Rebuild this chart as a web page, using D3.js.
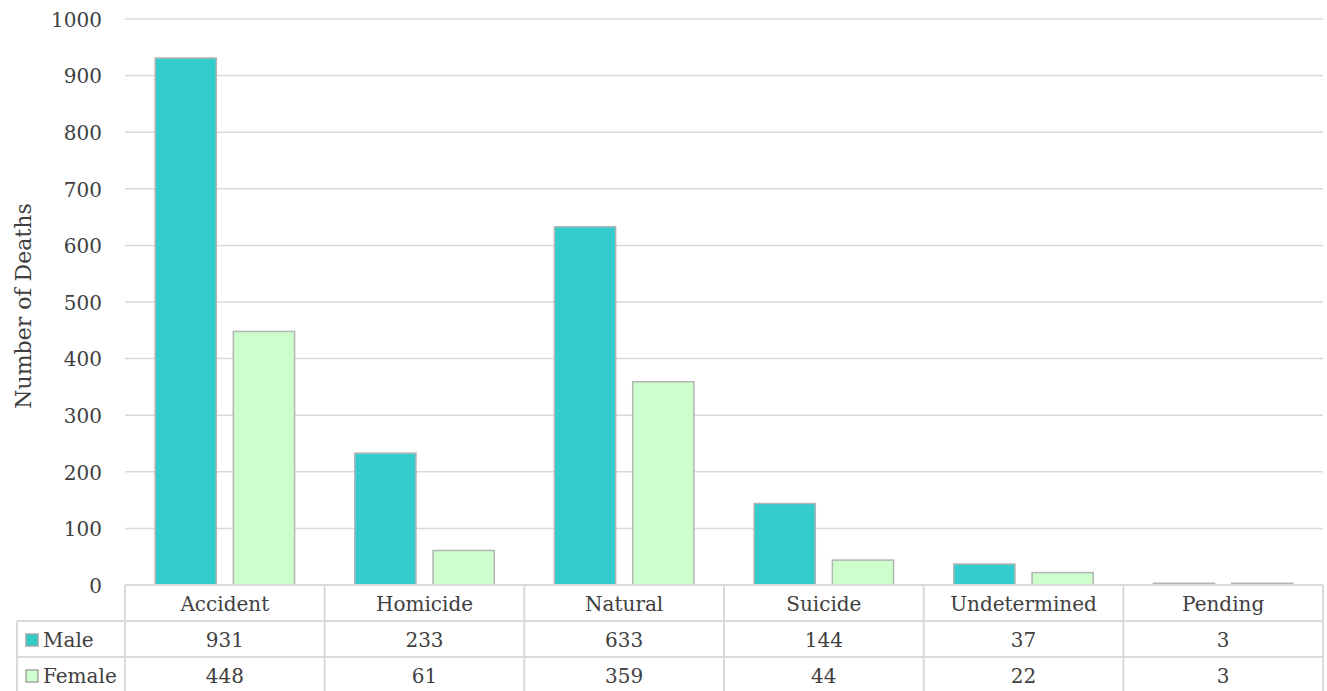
<!DOCTYPE html>
<html><head><meta charset="utf-8">
<script src="https://cdn.jsdelivr.net/npm/d3@7"></script>
<style>body{margin:0;background:#fff}svg{display:block}</style>
</head><body>
<script>
const categories = ["Accident","Homicide","Natural","Suicide","Undetermined","Pending"];
const seriesNames = ["Male","Female"];
const maleValues = [931,233,633,144,37,3];
const femaleValues = [448,61,359,44,22,3];
const yTicks = [0,100,200,300,400,500,600,700,800,900,1000];
const colors = ["#33CCCC","#CCFFCC"];

(function(){
const W=1327,H=691;
const pLeft=125,pRight=1323,pTop=19,pBottom=585;
const rowH=36;
const font="'DejaVu Serif', serif";
const fs=20;
const txt="#404040";
const svg=d3.select("body").append("svg").attr("width",W).attr("height",H);

const x=d3.scaleBand().domain(categories).range([pLeft,pRight]).padding(0);
const x1=d3.scaleBand().domain(seriesNames).range([0,x.bandwidth()]).paddingInner(0.218).paddingOuter(0.385);
const y=d3.scaleLinear().domain([0,1000]).range([pBottom,pTop]);

svg.append("g").selectAll("line").data(yTicks).join("line")
 .attr("x1",pLeft).attr("x2",pRight).attr("y1",d=>y(d)).attr("y2",d=>y(d))
 .attr("stroke","#d9d9d9").attr("stroke-width",1.5);

const ya=svg.append("g").attr("transform",`translate(${pLeft},0)`)
 .call(d3.axisLeft(y).tickValues(yTicks).tickFormat(d3.format("d")).tickSize(0).tickPadding(23));
ya.select(".domain").remove();
ya.selectAll("text").attr("font-family",font).attr("font-size",fs).attr("fill",txt).attr("dy","0.36em");

svg.append("text").attr("transform",`translate(23,306) rotate(-90)`)
 .attr("text-anchor","middle").attr("dominant-baseline","central").attr("font-family",font).attr("font-size",22).attr("fill",txt)
 .text("Number of Deaths");

const data=categories.map((c,i)=>({c,vals:[maleValues[i],femaleValues[i]]}));
const g=svg.append("g");
data.forEach(d=>{
  d.vals.forEach((v,j)=>{
    g.append("rect").attr("x",x(d.c)+x1(seriesNames[j])).attr("width",x1.bandwidth())
     .attr("y",y(v)).attr("height",y(0)-y(v))
     .attr("fill",colors[j]).attr("stroke","#b4b4b4").attr("stroke-width",1.5);
  });
});

const tc="#d9d9d9";
const t=svg.append("g");
const labLeft=17;
t.append("line").attr("x1",pLeft).attr("x2",pRight).attr("y1",pBottom).attr("y2",pBottom).attr("stroke",tc).attr("stroke-width",2);
[1,2,3].forEach(r=>{
  t.append("line").attr("x1",labLeft).attr("x2",pRight).attr("y1",pBottom+r*rowH).attr("y2",pBottom+r*rowH).attr("stroke",tc).attr("stroke-width",2);
});
t.append("line").attr("x1",labLeft).attr("x2",labLeft).attr("y1",pBottom+rowH).attr("y2",pBottom+3*rowH).attr("stroke",tc).attr("stroke-width",2);
categories.forEach(c=>{
  t.append("line").attr("x1",x(c)).attr("x2",x(c)).attr("y1",pBottom).attr("y2",pBottom+3*rowH).attr("stroke",tc).attr("stroke-width",2);
});
t.append("line").attr("x1",pRight).attr("x2",pRight).attr("y1",pBottom).attr("y2",pBottom+3*rowH).attr("stroke",tc).attr("stroke-width",2);

const cellText=(xx,yy,s,anchor)=>t.append("text").attr("x",xx).attr("y",yy).attr("text-anchor",anchor||"middle")
 .attr("dominant-baseline","central").attr("font-family",font).attr("font-size",fs).attr("fill",txt).text(s);
categories.forEach(c=>cellText(x(c)+x.bandwidth()/2,pBottom+rowH/2+1,c));
[maleValues,femaleValues].forEach((vals,r)=>{
  const yy=pBottom+rowH*(r+1)+rowH/2+1;
  vals.forEach((v,i)=>cellText(x(categories[i])+x.bandwidth()/2,yy,String(v)));
  t.append("rect").attr("x",26).attr("y",yy-6).attr("width",12).attr("height",12)
   .attr("fill",colors[r]).attr("stroke","#a6a6a6").attr("stroke-width",1.5);
  cellText(43,yy,seriesNames[r],"start");
});
})();
</script>
</body></html>
